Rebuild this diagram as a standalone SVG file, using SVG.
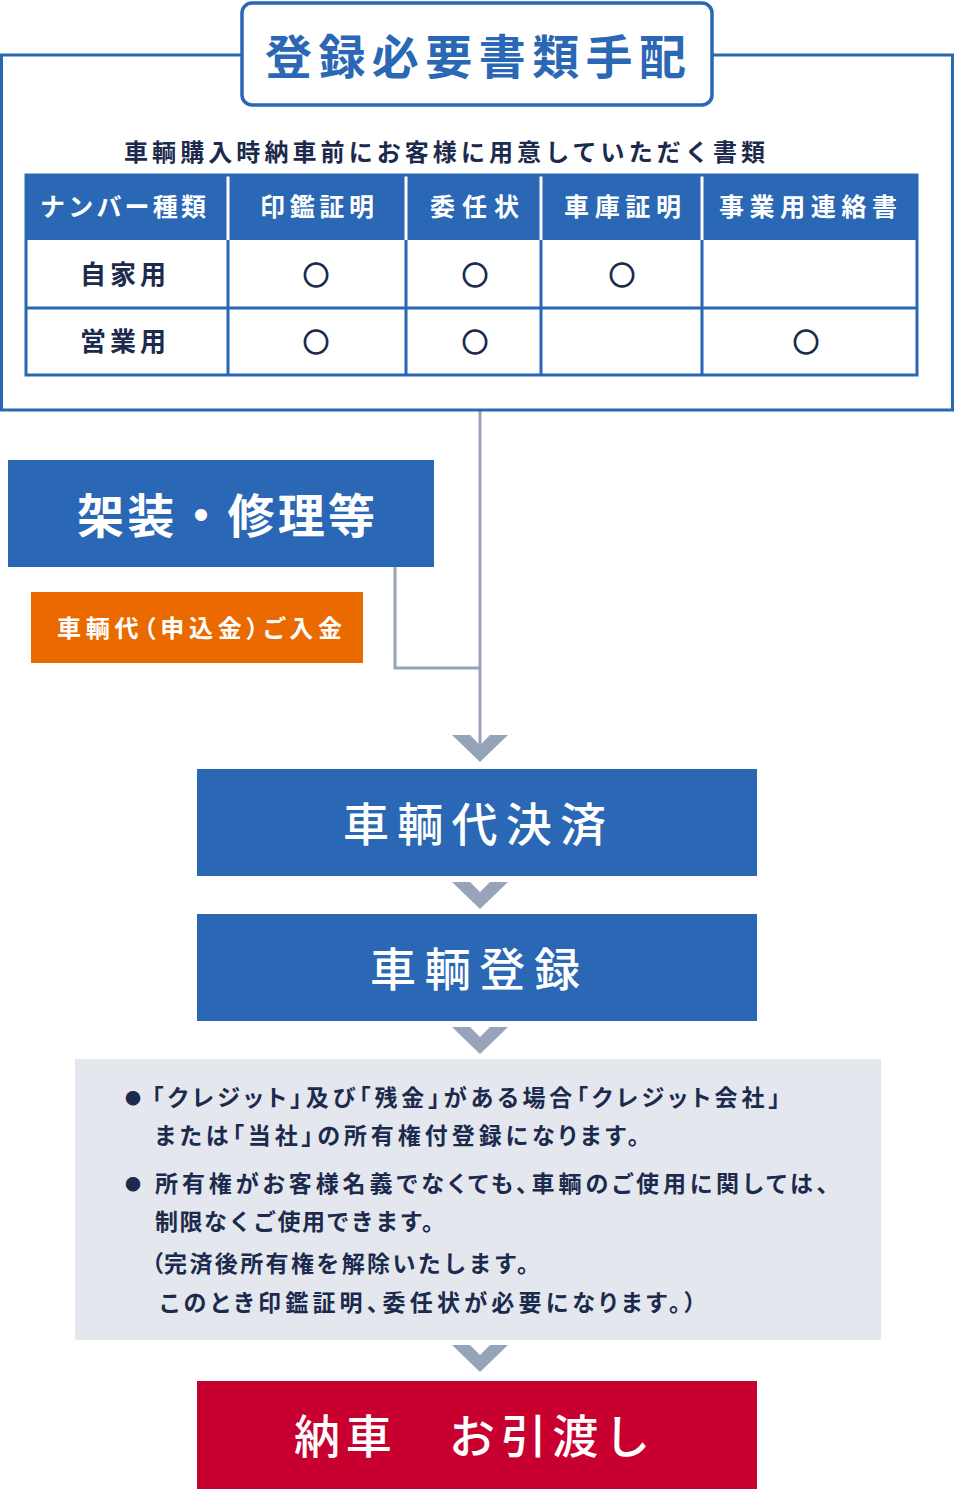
<svg xmlns="http://www.w3.org/2000/svg" width="954" height="1489" viewBox="0 0 954 1489">
<defs>
<style>
text{font-family:"Noto Sans CJK JP","Noto Sans",sans-serif;}
.blue{fill:#2a67b5;}
.wt{fill:#ffffff;font-weight:700;}
.wm{fill:#ffffff;font-weight:500;}
.nv{fill:#1c2b4d;font-weight:700;}
.ln{stroke:#2a67b5;stroke-width:3;fill:none;}
.wl{stroke:#ffffff;stroke-width:3;}
.con{stroke:#97a3b8;stroke-width:3;fill:none;}
.mk{font-size:26px;fill:#1c2b4d;stroke:#1c2b4d;stroke-width:1.4;font-weight:700;text-anchor:middle;}
.th{font-size:25px;}
.gt{font-size:23px;}
.pa{font-feature-settings:"palt";}
</style>
<path id="chev" d="M-28,0 L-10,0 L0,10 L10,0 L28,0 L0,27 Z" fill="#97a3b8"/>
</defs>

<g id="connectors">
<polyline class="con" points="480,411 480,748"/>
<polyline class="con" points="395,567 395,668 480,668"/>
<use href="#chev" x="480" y="735"/>
<use href="#chev" x="480" y="882"/>
<use href="#chev" x="480" y="1027"/>
<use href="#chev" x="480" y="1345"/>
</g>

<g id="documents">
<rect x="1.5" y="55" width="951" height="355" class="ln"/>
<g id="title">
<rect x="242" y="3" width="470" height="102" rx="10" fill="#ffffff" stroke="#2a67b5" stroke-width="3.5"/>
<text x="265" y="74" font-size="47" font-weight="700" fill="#2a67b5" textLength="421" lengthAdjust="spacing">登録必要書類手配</text>
</g>
<text x="124" y="161" font-size="24" class="nv" textLength="641" lengthAdjust="spacing">車輌購入時納車前にお客様に用意していただく書類</text>
<g id="table">
<rect x="26" y="175" width="891" height="65" class="blue"/>
<line x1="228" y1="175" x2="228" y2="240" class="wl"/>
<line x1="406" y1="175" x2="406" y2="240" class="wl"/>
<line x1="541" y1="175" x2="541" y2="240" class="wl"/>
<line x1="702" y1="175" x2="702" y2="240" class="wl"/>
<rect x="26" y="175" width="891" height="200" class="ln"/>
<line x1="26" y1="308" x2="917" y2="308" class="ln"/>
<line x1="228" y1="240" x2="228" y2="375" class="ln"/>
<line x1="406" y1="240" x2="406" y2="375" class="ln"/>
<line x1="541" y1="240" x2="541" y2="375" class="ln"/>
<line x1="702" y1="240" x2="702" y2="375" class="ln"/>
<text x="40" y="216" class="wt th" textLength="166" lengthAdjust="spacing">ナンバー種類</text>
<text x="260" y="216" class="wt th" textLength="114" lengthAdjust="spacing">印鑑証明</text>
<text x="430" y="216" class="wt th" textLength="89" lengthAdjust="spacing">委任状</text>
<text x="564" y="216" class="wt th" textLength="117" lengthAdjust="spacing">車庫証明</text>
<text x="719" y="216" class="wt th" textLength="178" lengthAdjust="spacing">事業用連絡書</text>
<text x="80" y="284" class="nv" font-size="26" textLength="86" lengthAdjust="spacing">自家用</text>
<text x="80" y="351" class="nv" font-size="26" textLength="86" lengthAdjust="spacing">営業用</text>
<text x="316" y="285" class="mk">○</text>
<text x="475" y="285" class="mk">○</text>
<text x="622" y="285" class="mk">○</text>
<text x="316" y="352" class="mk">○</text>
<text x="475" y="352" class="mk">○</text>
<text x="806" y="352" class="mk">○</text>
</g>
</g>

<g id="kasou">
<rect x="8" y="460" width="426" height="107" class="blue"/>
<text x="77" y="533" font-size="47" class="wt" textLength="298" lengthAdjust="spacing">架装・修理等</text>
</g>

<g id="nyukin">
<rect x="31" y="592" width="332" height="71" fill="#ea6a00"/>
<text x="57" y="637" font-size="24" class="wt pa" textLength="285" lengthAdjust="spacing">車輌代（申込金）ご入金</text>
</g>

<g id="kessai">
<rect x="197" y="769" width="560" height="107" class="blue"/>
<text x="343" y="841" font-size="46" class="wm" textLength="263" lengthAdjust="spacing">車輌代決済</text>
</g>

<g id="touroku">
<rect x="197" y="914" width="560" height="107" class="blue"/>
<text x="370" y="986" font-size="46" class="wm" textLength="210" lengthAdjust="spacing">車輌登録</text>
</g>

<g id="notes">
<rect x="75" y="1059" width="806" height="281" fill="#e4e8ee"/>
<text x="125" y="1104" font-size="16" class="nv">●</text>
<text x="125" y="1190" font-size="16" class="nv">●</text>
<text x="152" y="1106" class="nv gt pa" textLength="628" lengthAdjust="spacing">「クレジット」及び「残金」がある場合「クレジット会社」</text>
<text x="155" y="1144" class="nv gt pa" textLength="484" lengthAdjust="spacing">または「当社」の所有権付登録になります。</text>
<text x="155" y="1192" class="nv gt pa" textLength="673" lengthAdjust="spacing">所有権がお客様名義でなくても、車輌のご使用に関しては、</text>
<text x="155" y="1230" class="nv gt" textLength="290" lengthAdjust="spacing">制限なくご使用できます。</text>
<text class="nv gt"><tspan x="141" y="1272">（</tspan><tspan x="164" y="1272" textLength="376" lengthAdjust="spacing">完済後所有権を解除いたします。</tspan></text>
<text x="160" y="1311" class="nv gt pa" textLength="536" lengthAdjust="spacing">このとき印鑑証明、委任状が必要になります。）</text>
</g>

<g id="nousha">
<rect x="197" y="1381" width="560" height="108" fill="#c8002f"/>
<text x="294" y="1453" font-size="46" class="wm" textLength="356" lengthAdjust="spacing">納車　お引渡し</text>
</g>
</svg>
